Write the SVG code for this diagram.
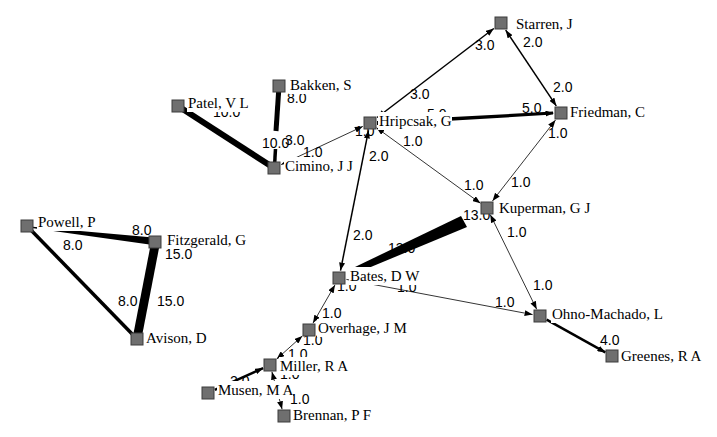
<svg xmlns="http://www.w3.org/2000/svg" width="717" height="437" viewBox="0 0 717 437">
<defs>
<marker id="arr" markerUnits="userSpaceOnUse" markerWidth="8" markerHeight="6" refX="8" refY="3" orient="auto-start-reverse">
<path d="M0,0 L8,3 L0,6 z" fill="#000"/>
</marker>
<style>
.e{stroke:#000;fill:none;stroke-linecap:butt}
.t{stroke-width:0.8}
.m{stroke-width:1.5}
.ab{marker-start:url(#arr);marker-end:url(#arr)}
.ae{marker-end:url(#arr)}
.as{marker-start:url(#arr)}
.w{fill:#000;stroke:none}
.el{font-size:14px;fill:#000}
.nl{font-size:15px;fill:#000}
.bg{fill:#fff;stroke:none}
.sq{fill:#6f6f6f;stroke:#3c3c3c;stroke-width:1}
</style>
</defs>
<rect width="717" height="437" fill="#fff"/>
<g id="edge-labels" font-family="Liberation Sans, Arial, sans-serif">
<text class="el" x="475" y="50">3.0</text>
<text class="el" x="523" y="47">2.0</text>
<text class="el" x="410" y="99">3.0</text>
<text class="el" x="553" y="92">2.0</text>
<text class="el" x="522" y="113">5.0</text>
<text class="el" x="427" y="119">5.0</text>
<text class="el" x="548" y="138">1.0</text>
<text class="el" x="403" y="146">1.0</text>
<text class="el" x="355" y="136">1.0</text>
<text class="el" x="303" y="157">1.0</text>
<text class="el" x="262" y="148">10.0</text>
<text class="el" x="285" y="145">3.0</text>
<text class="el" x="287" y="103">8.0</text>
<text class="el" x="213" y="117">10.0</text>
<text class="el" x="369" y="161">2.0</text>
<text class="el" x="353" y="240">2.0</text>
<text class="el" x="464" y="190">1.0</text>
<text class="el" x="511" y="187">1.0</text>
<text class="el" x="463" y="220">13.0</text>
<text class="el" x="507" y="237">1.0</text>
<text class="el" x="388" y="253">13.0</text>
<text class="el" x="397" y="292">1.0</text>
<text class="el" x="337" y="291">1.0</text>
<text class="el" x="322" y="318">1.0</text>
<text class="el" x="303" y="345">1.0</text>
<text class="el" x="288" y="359">1.0</text>
<text class="el" x="230" y="386">2.0</text>
<text class="el" x="280" y="379">1.0</text>
<text class="el" x="290" y="404">1.0</text>
<text class="el" x="533" y="290">1.0</text>
<text class="el" x="495" y="307">1.0</text>
<text class="el" x="600" y="345">4.0</text>
<text class="el" x="132" y="235">8.0</text>
<text class="el" x="63" y="250">8.0</text>
<text class="el" x="165" y="259">15.0</text>
<text class="el" x="118" y="306">8.0</text>
<text class="el" x="157" y="306">15.0</text>
</g>
<g id="connectors">
<line class="e m ab" x1="377.2" y1="117.5" x2="493.8" y2="28.5"/>
<line class="e m ab" x1="505.7" y1="30.1" x2="556.3" y2="105.9"/>
<polygon class="w" points="377,121 553,111.6 553,114.6 377,125"/>
<line class="e t ae" x1="545" y1="113.6" x2="553.5" y2="113.2"/>
<line class="e t ab" x1="281.2" y1="164.6" x2="362.8" y2="126.4"/>
<line class="e t ab" x1="376.5" y1="127.7" x2="480.5" y2="203.3"/>
<line class="e t ab" x1="555.5" y1="120.1" x2="492.5" y2="200.9"/>
<line class="e m ab" x1="368.5" y1="130.4" x2="340.5" y2="270.6"/>
<polygon class="w" points="355,267 461,216 467,227 366,269"/>
<line class="e t ab" x1="490.3" y1="214.7" x2="536.7" y2="309.3"/>
<line class="e t ae" x1="346.4" y1="279.4" x2="532.6" y2="314.6"/>
<line class="e t ab" x1="335" y1="284.9" x2="313" y2="323.1"/>
<line class="e t ab" x1="302.3" y1="336" x2="276.7" y2="359"/>
<line class="e as" stroke-width="2.5" x1="263.2" y1="368.1" x2="214.8" y2="389.9"/>
<line class="e t ab" x1="271.9" y1="371.7" x2="282.1" y2="409.3"/>
<line class="e ae" stroke-width="2.5" x1="546.6" y1="319.6" x2="605.4" y2="352.4"/>
<line class="e" stroke-width="6" x1="178" y1="106" x2="274" y2="168"/>
<line class="e" stroke-width="5" x1="279" y1="86" x2="276" y2="131"/>
<line class="e" stroke-width="3.5" x1="275.5" y1="149" x2="274.5" y2="166"/>
<line class="e" stroke-width="3.5" x1="27" y1="226" x2="137" y2="339"/>
<polygon class="w" points="30,226.5 153,237.5 153,245 30,227.8"/>
<polygon class="w" points="151,243 160,243 142,336 133,336"/>
</g>
<g id="nodes" font-family="Liberation Serif, Times New Roman, serif">
<g id="node-Starren"><rect class="bg" x="515" y="15" width="59" height="18"/><rect class="sq" x="495" y="17" width="12" height="12"/><text class="nl" x="516" y="29">Starren, J</text></g>
<g id="node-Friedman"><rect class="bg" x="569" y="103" width="77" height="18"/><rect class="sq" x="555" y="107" width="12" height="12"/><text class="nl" x="570" y="117">Friedman, C</text></g>
<g id="node-Hripcsak"><rect class="bg" x="378" y="112" width="74" height="18"/><rect class="sq" x="364" y="117" width="12" height="12"/><text class="nl" x="379" y="126">Hripcsak, G</text></g>
<g id="node-Patel"><rect class="bg" x="187" y="94" width="62" height="18"/><rect class="sq" x="172" y="100" width="12" height="12"/><text class="nl" x="188" y="108">Patel, V L</text></g>
<g id="node-Bakken"><rect class="bg" x="289" y="76" width="62" height="18"/><rect class="sq" x="273" y="80" width="12" height="12"/><text class="nl" x="290" y="90">Bakken, S</text></g>
<g id="node-Cimino"><rect class="bg" x="284" y="157" width="69" height="18"/><rect class="sq" x="268" y="162" width="12" height="12"/><text class="nl" x="285" y="171">Cimino, J J</text></g>
<g id="node-Kuperman"><rect class="bg" x="498" y="199" width="93" height="18"/><rect class="sq" x="481" y="202" width="12" height="12"/><text class="nl" x="499" y="213">Kuperman, G J</text></g>
<g id="node-Bates"><rect class="bg" x="349" y="267" width="70" height="18"/><rect class="sq" x="333" y="272" width="12" height="12"/><text class="nl" x="350" y="281">Bates, D W</text></g>
<g id="node-Powell"><rect class="bg" x="37" y="213" width="58" height="18"/><rect class="sq" x="21" y="220" width="12" height="12"/><text class="nl" x="38" y="227">Powell, P</text></g>
<g id="node-Fitzgerald"><rect class="bg" x="166" y="231" width="80" height="18"/><rect class="sq" x="149" y="236" width="12" height="12"/><text class="nl" x="167" y="245">Fitzgerald, G</text></g>
<g id="node-Avison"><rect class="bg" x="145" y="329" width="62" height="18"/><rect class="sq" x="131" y="333" width="12" height="12"/><text class="nl" x="146" y="343">Avison, D</text></g>
<g id="node-Overhage"><rect class="bg" x="317" y="319" width="90" height="18"/><rect class="sq" x="303" y="324" width="12" height="12"/><text class="nl" x="318" y="333">Overhage, J M</text></g>
<g id="node-Miller"><rect class="bg" x="279" y="357" width="71" height="18"/><rect class="sq" x="264" y="359" width="12" height="12"/><text class="nl" x="280" y="371">Miller, R A</text></g>
<g id="node-Musen"><rect class="bg" x="217" y="381" width="76" height="18"/><rect class="sq" x="202" y="387" width="12" height="12"/><text class="nl" x="218" y="395">Musen, M A</text></g>
<g id="node-Brennan"><rect class="bg" x="292" y="406" width="80" height="18"/><rect class="sq" x="278" y="410" width="12" height="12"/><text class="nl" x="293" y="420">Brennan, P F</text></g>
<g id="node-Ohno-Machado"><rect class="bg" x="551" y="305" width="112" height="18"/><rect class="sq" x="534" y="310" width="12" height="12"/><text class="nl" x="552" y="319">Ohno-Machado, L</text></g>
<g id="node-Greenes"><rect class="bg" x="620" y="347" width="82" height="18"/><rect class="sq" x="606" y="350" width="12" height="12"/><text class="nl" x="621" y="361">Greenes, R A</text></g>
</g>
</svg>
